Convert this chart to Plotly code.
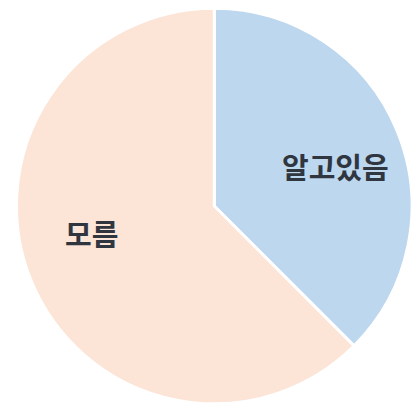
import math
import plotly.graph_objects as go

# Survey response shares
labels = ["알고있음", "모름"]
shares = [37.5, 62.5]
colors = ["#BDD7EE", "#FCE4D6"]

W = H = 412
dom_x = [0.04, 1.0]
dom_y = [0.015, 0.985]

fig = go.Figure(
    go.Pie(
        labels=labels,
        values=shares,
        sort=False,
        direction="clockwise",
        rotation=0,
        marker=dict(colors=colors, line=dict(color="white", width=3)),
        textinfo="none",
        hoverinfo="label+percent",
        showlegend=False,
        domain=dict(x=dom_x, y=dom_y),
    )
)

# Slice labels: placed part-way through each slice's sweep, inside the pie
px_w = (dom_x[1] - dom_x[0]) * W
px_h = (dom_y[1] - dom_y[0]) * H
cx = (dom_x[0] + dom_x[1]) / 2 * W
cy = (1 - (dom_y[0] + dom_y[1]) / 2) * H
radius = min(px_w, px_h) / 2

total = sum(shares)
start = 0.0
for lab, val in zip(labels, shares):
    sweep = val / total * 360
    ang = math.radians(start + 0.54 * sweep)
    d = 0.64 * radius
    x_px = cx + d * math.sin(ang)
    y_px = cy - d * math.cos(ang)
    fig.add_annotation(
        x=x_px / W,
        y=1 - y_px / H,
        xref="paper",
        yref="paper",
        yshift=3,
        text=lab,
        showarrow=False,
        xanchor="center",
        yanchor="middle",
        font=dict(family="Noto Sans CJK KR", size=29, color="#2f3640", weight="bold"),
    )
    start += sweep

fig.update_layout(
    width=W,
    height=H,
    margin=dict(l=0, r=0, t=0, b=0),
    paper_bgcolor="white",
    plot_bgcolor="white",
)

fig.write_html("out.html")
